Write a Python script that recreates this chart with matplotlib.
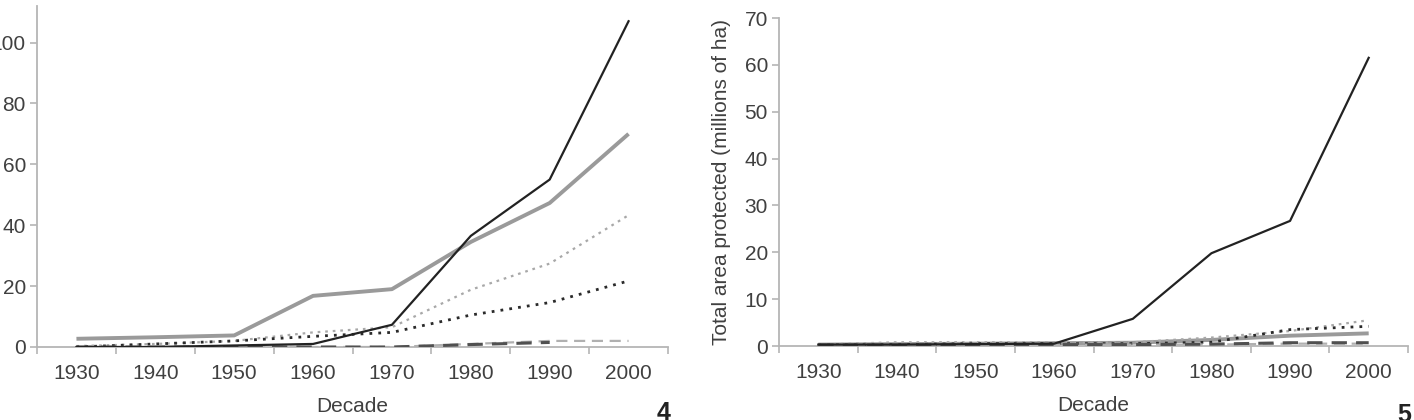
import numpy as np
import matplotlib
matplotlib.use("Agg")
import matplotlib.pyplot as plt

plt.rcParams['font.family'] = ['Liberation Sans', 'DejaVu Sans']

decades = ["1930", "1940", "1950", "1960", "1970", "1980", "1990", "2000"]

# Panel 4 (left)
p4_black_solid = [0, 0, 0.5, 1, 7.3, 36.5, 55, 107]
p4_gray_solid = [2.7, 3.2, 3.8, 16.8, 19, 34.5, 47.3, 70]
p4_light_dot = [0.3, 1, 2, 4.8, 6.5, 18.8, 27.4, 43.3]
p4_dark_dot = [0, 1, 2, 3.5, 4.8, 10.5, 14.6, 21.7]
p4_light_dash = [0, 0, 0.3, 0, 0, 1, 2, 2]
p4_dark_dash = [0, 0, 0, 0, 0, 0.8, 1.5, np.nan]

# Panel 5 (right)
p5_black_solid = [0.3, 0.3, 0.4, 0.5, 5.8, 19.8, 26.7, 61.5]
p5_gray_solid = [0.3, 0.4, 0.5, 0.6, 0.7, 1.3, 2.2, 2.7]
p5_light_dot = [0.3, 0.8, 0.8, 0.8, 0.8, 1.8, 3.2, 5.5]
p5_dark_dot = [0.2, 0.3, 0.5, 0.5, 0.5, 0.8, 3.5, 4.2]
p5_light_dash = [0.1, 0.1, 0.2, 0.3, 0.3, 0.3, 0.5, 0.5]
p5_dark_dash = [0.2, 0.2, 0.3, 0.3, 0.3, 0.4, 0.7, 0.7]

fig = plt.figure(figsize=(14.14, 4.2), dpi=100)
ax1 = fig.add_axes([37/1414, 73/420, 631/1414, 341/420])
ax2 = fig.add_axes([779/1414, 74/420, 629/1414, 328/420])

x = np.arange(len(decades))
spine_c = '#b5b5b5'
txt_c = '#404040'
fs = 15

def draw(ax, bs, gs, ld, dd, lds, dds, ymax, yticks):
    ax.plot(x, gs, color='#9a9a9a', lw=2.8, solid_capstyle='butt', zorder=2)
    ax.plot(x, ld, color='#a8a8a8', lw=1.6, linestyle=(0, (1.2, 2.2)), zorder=3)
    ax.plot(x, dd, color='#2a2a2a', lw=2.0, linestyle=(0, (1, 2.2)), zorder=3)
    ax.plot(x, lds, color='#b0b0b0', lw=1.6, linestyle=(0, (5, 3)), zorder=3)
    ax.plot(x, dds, color='#505050', lw=2.2, linestyle=(0, (5, 3)), zorder=3)
    ax.plot(x, bs, color='#222222', lw=1.6, zorder=4)
    ax.set_xlim(-0.5, len(decades) - 0.5)
    ax.set_ylim(0, ymax)
    ax.set_xticks(x)
    ax.set_xticklabels(decades)
    ax.set_xticks(np.arange(-0.5, len(decades)), minor=True)
    ax.tick_params(axis='x', which='major', length=0, pad=12, labelsize=fs, labelcolor=txt_c)
    ax.tick_params(axis='x', which='minor', length=5, width=1.2, color=spine_c, direction='out')
    ax.set_yticks(yticks)
    ax.tick_params(axis='y', length=5, width=1.2, color=spine_c, direction='out', pad=3,
                   labelsize=fs, labelcolor=txt_c)
    for s in ['top', 'right']:
        ax.spines[s].set_visible(False)
    for s in ['left', 'bottom']:
        ax.spines[s].set_color(spine_c)
        ax.spines[s].set_linewidth(1.3)
    ax.set_xlabel('Decade', fontsize=fs, color=txt_c, labelpad=10)

draw(ax1, p4_black_solid, p4_gray_solid, p4_light_dot, p4_dark_dot, p4_light_dash, p4_dark_dash,
     112, [0, 20, 40, 60, 80, 100])
draw(ax2, p5_black_solid, p5_gray_solid, p5_light_dot, p5_dark_dot, p5_light_dash, p5_dark_dash,
     70, [0, 10, 20, 30, 40, 50, 60, 70])
ax2.set_ylabel('Total area protected (millions of ha)', fontsize=fs, color=txt_c, labelpad=10)

fig.text(664/1414, 1 - 401/420, '4', fontsize=18, fontweight='bold', color='#222222',
         ha='center', va='top')
fig.text(1404/1414, 1 - 403/420, '5', fontsize=18, fontweight='bold', color='#222222',
         ha='center', va='top')

fig.savefig('out.png', dpi=100)
